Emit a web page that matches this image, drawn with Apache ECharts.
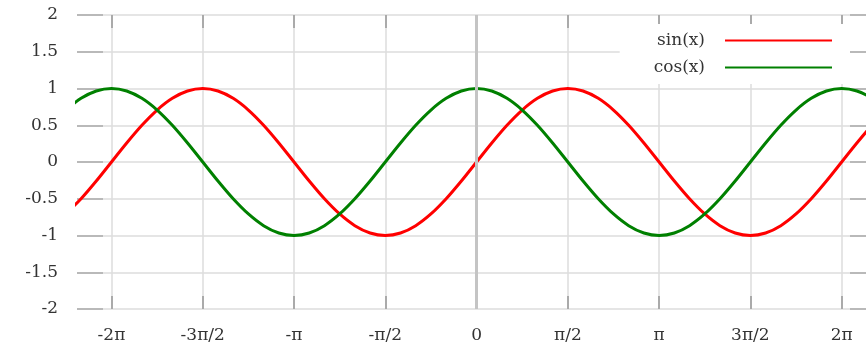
<!DOCTYPE html>
<html><head><meta charset="utf-8">
<script src="https://cdn.jsdelivr.net/npm/echarts@6/dist/echarts.min.js"></script>
<style>html,body{margin:0;padding:0;background:#fff}#c{width:866px;height:344px}</style>
</head><body><div id="c"></div>
<script>
// x positions in degrees (axis labelled in multiples of pi/2)
const xDeg = [-405,-390,-375,-360,-345,-330,-315,-300,-285,-270,-255,-240,-225,-210,-195,-180,-165,-150,-135,-120,-105,-90,-75,-60,-45,-30,-15,0,15,30,45,60,75,90,105,120,135,150,165,180,195,210,225,240,255,270,285,300,315,330,345,360,375,390,405];
const sinVals = [-0.7071,-0.5,-0.2588,0,0.2588,0.5,0.7071,0.866,0.9659,1,0.9659,0.866,0.7071,0.5,0.2588,0,-0.2588,-0.5,-0.7071,-0.866,-0.9659,-1,-0.9659,-0.866,-0.7071,-0.5,-0.2588,0,0.2588,0.5,0.7071,0.866,0.9659,1,0.9659,0.866,0.7071,0.5,0.2588,0,-0.2588,-0.5,-0.7071,-0.866,-0.9659,-1,-0.9659,-0.866,-0.7071,-0.5,-0.2588,0,0.2588,0.5,0.7071];
const cosVals = [0.7071,0.866,0.9659,1,0.9659,0.866,0.7071,0.5,0.2588,0,-0.2588,-0.5,-0.7071,-0.866,-0.9659,-1,-0.9659,-0.866,-0.7071,-0.5,-0.2588,0,0.2588,0.5,0.7071,0.866,0.9659,1,0.9659,0.866,0.7071,0.5,0.2588,0,-0.2588,-0.5,-0.7071,-0.866,-0.9659,-1,-0.9659,-0.866,-0.7071,-0.5,-0.2588,0,0.2588,0.5,0.7071,0.866,0.9659,1,0.9659,0.866,0.7071];
const tickDeg = [-360,-270,-180,-90,0,90,180,270,360];
const tickLabels = ['-2π','-3π/2','-π','-π/2','0','π/2','π','3π/2','2π'];
const seriesNames = ['sin(x)','cos(x)'];
const seriesColors = ['#ff0000','#008000'];

const FONT = 'DejaVu Serif';
const chart = echarts.init(document.getElementById('c'), null, {renderer:'canvas'});
const tickColor = '#aaaaaa', gridColor = '#dddddd';
const xCommon = {
  type:'value', min:-394, max:384,
  axisLine:{show:false, onZero:false}
};
const yCommon = {
  type:'value', min:-2, max:2, interval:0.5,
  axisLine:{show:false, onZero:false}
};
chart.setOption({
  animation:false,
  backgroundColor:'#fff',
  grid:{left:77, top:15, right:0, bottom:33, containLabel:false},
  xAxis:[
    Object.assign({}, xCommon, {
      position:'bottom',
      axisTick:{show:true, inside:true, length:13, customValues:tickDeg, lineStyle:{color:tickColor, width:2}},
      axisLabel:{customValues:tickDeg, margin:18, fontFamily:FONT, fontSize:17, color:'#333',
        formatter:function(v){ const i = tickDeg.indexOf(Math.round(v)); return i>=0 ? tickLabels[i] : ''; }},
      splitLine:{show:true, lineStyle:{color:gridColor, width:1.5}}
    }),
    Object.assign({}, xCommon, {
      position:'top',
      axisTick:{show:true, inside:true, length:13, customValues:tickDeg, lineStyle:{color:tickColor, width:2}},
      axisLabel:{show:false},
      splitLine:{show:false}
    })
  ],
  yAxis:[
    Object.assign({}, yCommon, {
      position:'left',
      axisTick:{show:true, inside:true, length:26, lineStyle:{color:tickColor, width:1.5}},
      axisLabel:{margin:19, fontFamily:FONT, fontSize:17, color:'#333'},
      splitLine:{show:true, lineStyle:{color:gridColor, width:1.5}}
    }),
    Object.assign({}, yCommon, {
      position:'right',
      axisTick:{show:true, inside:true, length:16, lineStyle:{color:tickColor, width:1.5}},
      axisLabel:{show:false},
      splitLine:{show:false}
    })
  ],
  legend:{
    data:seriesNames, orient:'vertical', right:16, top:24, align:'right',
    icon:'rect', itemWidth:107, itemHeight:2, itemGap:10,
    backgroundColor:'#fff', padding:[8,18,8,34],
    textStyle:{fontFamily:FONT, fontSize:17, color:'#333', padding:[0,15,0,0]}
  },
  series:[
    {
      name:'zero', type:'line', data:[], z:1, silent:true,
      markLine:{silent:true, symbol:'none', label:{show:false}, animation:false,
        lineStyle:{color:'#c4c4c4', width:3, type:'solid'}, data:[{xAxis:0}]}
    },
    {
      name:seriesNames[0], type:'line', z:3, showSymbol:false, smooth:0.3,
      data:xDeg.map((x,i)=>[x, sinVals[i]]),
      itemStyle:{color:seriesColors[0]}, lineStyle:{color:seriesColors[0], width:3}
    },
    {
      name:seriesNames[1], type:'line', z:3, showSymbol:false, smooth:0.3,
      data:xDeg.map((x,i)=>[x, cosVals[i]]),
      itemStyle:{color:seriesColors[1]}, lineStyle:{color:seriesColors[1], width:3}
    }
  ]
});
</script></body></html>
